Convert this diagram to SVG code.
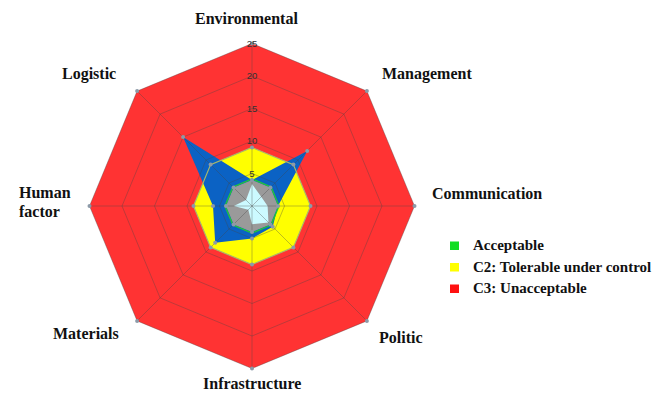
<svg xmlns="http://www.w3.org/2000/svg" width="670" height="398" viewBox="0 0 670 398">
  <style>
    .lbl { font-family: "Liberation Serif", "Times New Roman", serif; font-weight: bold; font-size: 16px; fill: #111; }
    .leg { font-family: "Liberation Serif", "Times New Roman", serif; font-weight: bold; font-size: 15px; fill: #111; }
    .tick { font-family: "Liberation Sans", Arial, sans-serif; font-size: 9.5px; fill: #333; text-anchor: middle; }
    .grid { fill: none; stroke: #444; stroke-opacity: 0.35; stroke-width: 1; }
    .mk { fill: #8C9AA8; }
  </style>
  <rect width="670" height="398" fill="#fff"/>

  <g id="series">
    <polygon id="s-red" fill="#FF3333" points="252,43.5 366.9,91.1 414.5,206 366.9,320.9 252,368.5 137.1,320.9 89.5,206 137.1,91.1"/>
    <polygon id="s-yellow" fill="#FFFF00" points="252,147.5 293.4,164.6 310.5,206 293.4,247.4 252,264.5 210.6,247.4 193.5,206 210.6,164.6"/>
    <polygon id="s-blue" fill="#0B62C4" points="252,180 307.2,150.9 278,206 272.7,226.7 252,238.5 215.2,242.8 213,206 183.1,137.1"/>
    <polygon id="s-yellow-line" fill="none" stroke="#A9B86A" stroke-width="1.2" points="252,147.5 293.4,164.6 310.5,206 293.4,247.4 252,264.5 210.6,247.4 193.5,206 210.6,164.6"/>
    <polygon id="s-gray" fill="#9A9A9A" points="252,180 270.4,187.6 278,206 270.4,224.4 252,232 233.6,224.4 226,206 233.6,187.6"/>
    <polygon id="s-green" fill="none" stroke="#22C933" stroke-width="1.3" points="252,179 271.1,186.9 279,206 271.1,225.1 252,233 232.9,225.1 225,206 232.9,186.9"/>
    <polygon id="s-cyan" fill="#CCFAFF" points="252,183.9 261.2,196.8 267.6,206 268.5,222.5 252,224.2 248.3,209.7 233.8,206 246,200"/>
  </g>

  <g id="grid">
    <polygon class="grid" points="252,43.5 366.9,91.1 414.5,206 366.9,320.9 252,368.5 137.1,320.9 89.5,206 137.1,91.1"/>
    <polygon class="grid" points="252,76 343.9,114.1 382,206 343.9,297.9 252,336 160.1,297.9 122,206 160.1,114.1"/>
    <polygon class="grid" points="252,108.5 320.9,137.1 349.5,206 320.9,274.9 252,303.5 183.1,274.9 154.5,206 183.1,137.1"/>
    <polygon class="grid" points="252,141 298,160 317,206 298,252 252,271 206,252 187,206 206,160"/>
    <polygon class="grid" points="252,173.5 275,183 284.5,206 275,229 252,238.5 229,229 219.5,206 229,183"/>
    <path class="grid" d="M252,206L252,43.5M252,206L366.9,91.1M252,206L414.5,206M252,206L366.9,320.9M252,206L252,368.5M252,206L137.1,320.9M252,206L89.5,206M252,206L137.1,91.1"/>
  </g>

  <g id="markers">
    <circle class="mk" cx="252" cy="43.5" r="2"/><circle class="mk" cx="366.9" cy="91.1" r="2"/><circle class="mk" cx="414.5" cy="206" r="2"/><circle class="mk" cx="366.9" cy="320.9" r="2"/><circle class="mk" cx="252" cy="368.5" r="2"/><circle class="mk" cx="137.1" cy="320.9" r="2"/><circle class="mk" cx="89.5" cy="206" r="2"/><circle class="mk" cx="137.1" cy="91.1" r="2"/>
    <circle class="mk" cx="252" cy="147.5" r="2"/><circle class="mk" cx="293.4" cy="164.6" r="2"/><circle class="mk" cx="310.5" cy="206" r="2"/><circle class="mk" cx="293.4" cy="247.4" r="2"/><circle class="mk" cx="252" cy="264.5" r="2"/><circle class="mk" cx="210.6" cy="247.4" r="2"/><circle class="mk" cx="193.5" cy="206" r="2"/><circle class="mk" cx="210.6" cy="164.6" r="2"/>
    <circle class="mk" cx="307.2" cy="150.9" r="2"/><circle class="mk" cx="278" cy="206" r="2"/><circle class="mk" cx="272.7" cy="226.7" r="2"/><circle class="mk" cx="252" cy="238.5" r="2"/><circle class="mk" cx="215.2" cy="242.8" r="2"/><circle class="mk" cx="213" cy="206" r="2"/><circle class="mk" cx="183.1" cy="137.1" r="2"/>
    <circle class="mk" cx="252" cy="180" r="2"/><circle class="mk" cx="270.4" cy="187.6" r="2"/><circle class="mk" cx="270.4" cy="224.4" r="2"/><circle class="mk" cx="252" cy="232" r="2"/><circle class="mk" cx="233.6" cy="224.4" r="2"/><circle class="mk" cx="226" cy="206" r="2"/><circle class="mk" cx="233.6" cy="187.6" r="2"/>
  </g>

  <g id="ticks">
    <text class="tick" x="252" y="46.5">25</text>
    <text class="tick" x="252" y="79">20</text>
    <text class="tick" x="252" y="111.5">15</text>
    <text class="tick" x="252" y="144">10</text>
    <text class="tick" x="252" y="176.5">5</text>
  </g>

  <g id="axis-labels">
    <text id="l-env" class="lbl" x="195" y="24">Environmental</text>
    <text id="l-mgmt" class="lbl" x="382" y="79">Management</text>
    <text id="l-comm" class="lbl" x="432" y="199">Communication</text>
    <text id="l-pol" class="lbl" x="379" y="343">Politic</text>
    <text id="l-infra" class="lbl" x="203" y="389">Infrastructure</text>
    <text id="l-mat" class="lbl" x="53" y="339">Materials</text>
    <text id="l-hum" class="lbl" x="19" y="198">Human<tspan x="19" y="217">factor</tspan></text>
    <text id="l-log" class="lbl" x="62" y="79">Logistic</text>
  </g>

  <g id="legend">
    <rect x="450" y="241.5" width="9" height="8.5" fill="#11DD22"/>
    <text class="leg" x="473" y="250">Acceptable</text>
    <rect x="450" y="263" width="9" height="8.5" fill="#FFFF00"/>
    <text class="leg" x="473" y="271.7">C2: Tolerable under control</text>
    <rect x="450" y="284.5" width="9" height="8.5" fill="#FF1111"/>
    <text class="leg" x="473" y="293.3">C3: Unacceptable</text>
  </g>
</svg>
